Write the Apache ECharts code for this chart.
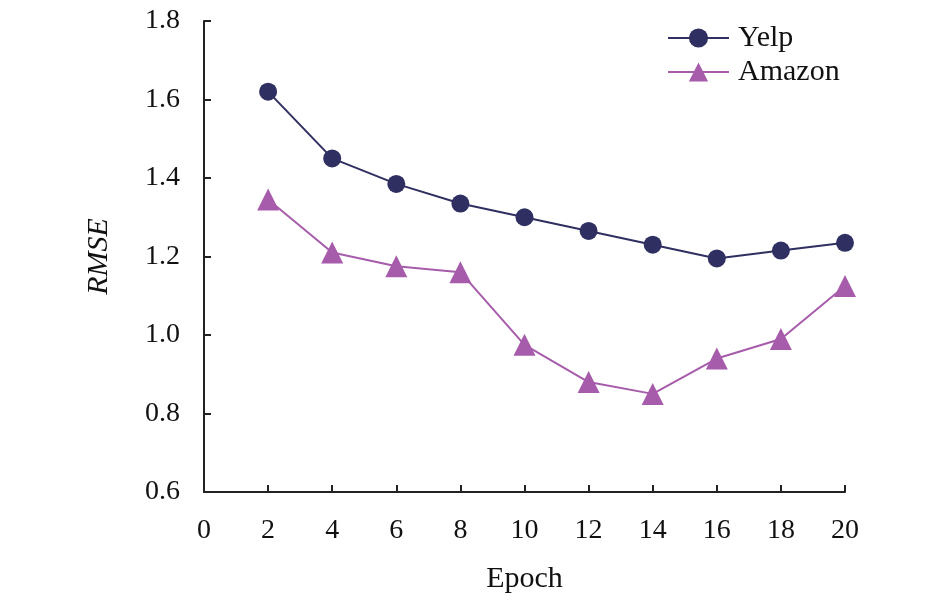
<!DOCTYPE html>
<html><head><meta charset="utf-8">
<script src="https://cdn.jsdelivr.net/npm/echarts@6/dist/echarts.min.js"></script>
<style>html,body{margin:0;padding:0;background:#fff}#c{width:945px;height:600px}</style>
</head><body><div id="c"></div>
<script>
const epochs = [2, 4, 6, 8, 10, 12, 14, 16, 18, 20];
const yelp = [1.62, 1.45, 1.385, 1.335, 1.30, 1.265, 1.23, 1.195, 1.215, 1.235];
const amazon = [1.345, 1.21, 1.175, 1.16, 0.975, 0.88, 0.85, 0.94, 0.99, 1.125];
const font = 'Liberation Serif, Times New Roman, serif';
const chart = echarts.init(document.getElementById('c'));
chart.setOption({
  animation: false,
  grid: { left: 204, right: 100, top: 21, bottom: 108 },
  legend: {
    left: 662, top: 18, orient: 'vertical', itemWidth: 61, itemHeight: 24, itemGap: 4,
    textStyle: { fontFamily: font, fontSize: 30, color: '#111', padding: [0, 0, 0, 4] },
    data: ['Yelp', 'Amazon']
  },
  xAxis: {
    type: 'value', min: 0, max: 20, interval: 2,
    name: 'Epoch', nameLocation: 'middle', nameGap: 72,
    nameTextStyle: { fontFamily: font, fontSize: 30, color: '#111' },
    axisLine: { lineStyle: { color: '#222', width: 2 } },
    axisTick: { inside: true, length: 7, lineStyle: { color: '#222', width: 2 } },
    axisLabel: { fontFamily: font, fontSize: 28, color: '#111', margin: 25 },
    splitLine: { show: false }
  },
  yAxis: {
    type: 'value', min: 0.6, max: 1.8, interval: 0.2,
    name: 'RMSE', nameLocation: 'middle', nameGap: 90,
    nameTextStyle: { fontFamily: font, fontSize: 30, fontStyle: 'italic', color: '#111' },
    axisLine: { show: true, lineStyle: { color: '#222', width: 2 } },
    axisTick: { show: true, inside: true, length: 7, lineStyle: { color: '#222', width: 2 } },
    axisLabel: { fontFamily: font, fontSize: 28, color: '#111', margin: 24, formatter: v => v.toFixed(1) },
    splitLine: { show: false }
  },
  series: [
    { name: 'Yelp', type: 'line', data: epochs.map((e, i) => [e, yelp[i]]),
      symbol: 'circle', symbolSize: 18,
      lineStyle: { color: '#2f2f61', width: 2 }, itemStyle: { color: '#2f2f61' } },
    { name: 'Amazon', type: 'line', data: epochs.map((e, i) => [e, amazon[i]]),
      symbol: 'triangle', symbolSize: 22,
      lineStyle: { color: '#a75bab', width: 2 }, itemStyle: { color: '#a75bab' } }
  ]
});
</script></body></html>
